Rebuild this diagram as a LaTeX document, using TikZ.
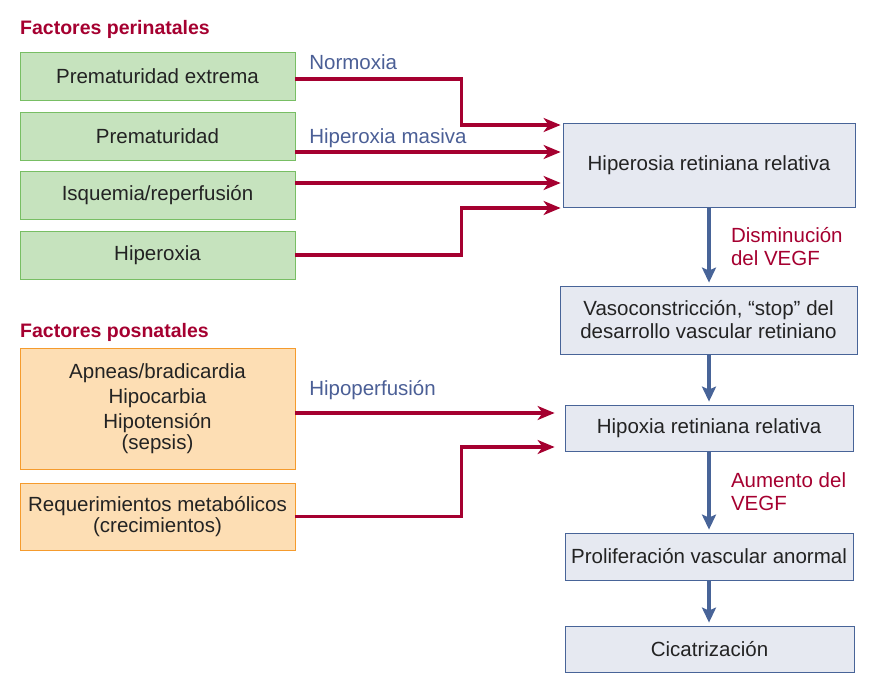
\documentclass[tikz,border=0pt]{standalone}
\usepackage{fontspec}
\setmainfont{Liberation Sans}
\usepackage{xcolor}
\usepackage{tikz}
\usetikzlibrary{shapes,arrows.meta,positioning,calc}

\definecolor{titlered}{RGB}{165,0,48}
\definecolor{labelblue}{RGB}{75,95,150}
\definecolor{flowblue}{RGB}{72,100,152}
\definecolor{boxgray}{RGB}{230,233,241}
\definecolor{perigreen}{RGB}{198,227,190}
\definecolor{perigreenline}{RGB}{120,190,100}
\definecolor{posorange}{RGB}{253,222,180}
\definecolor{posorangeline}{RGB}{245,155,45}
\definecolor{boxtext}{RGB}{35,35,35}

\tikzset{
	peribox/.style={draw=perigreenline, fill=perigreen, text=boxtext, line width=0.8pt, minimum width=275pt, minimum height=48pt, inner sep=0pt},
	posbox/.style={draw=posorangeline, fill=posorange, text=boxtext, line width=0.8pt, minimum width=275pt, align=center, inner sep=0pt},
	flowbox/.style={draw=flowblue, fill=boxgray, text=boxtext, line width=0.8pt, align=center, inner sep=0pt},
	redarrow/.style={draw=titlered, line width=3.8pt, -{Stealth[length=17pt,width=14pt,inset=5pt]}, shorten >=2pt},
	bluearrow/.style={draw=flowblue, line width=4pt, -{Stealth[length=15pt,width=14pt,inset=3pt]}, shorten >=3pt},
	grouptitle/.style={text=titlered, font=\bfseries\fontsize{19.5}{22}\selectfont, anchor=base west, inner sep=0pt},
	cause/.style={text=labelblue, anchor=base west, inner sep=0pt},
	effect/.style={text=titlered, align=left, anchor=west, inner sep=0pt},
}

\begin{document}
\begin{tikzpicture}[x=1pt, y=-1pt, font=\fontsize{20.5}{23}\selectfont]
	\useasboundingbox (0,0) rectangle (874,695);

	% factores perinatales
	\node[grouptitle] (perititle) at (20,35) {Factores perinatales};
	\node[peribox] (extrema) at (157.5,76) {Prematuridad extrema};
	\node[peribox] (prema) at (157.5,136) {Prematuridad};
	\node[peribox] (isquemia) at (157.5,195) {Isquemia/reperfusión};
	\node[peribox] (hiperoxia) at (157.5,255) {Hiperoxia};

	% factores posnatales
	\node[grouptitle] (postitle) at (20,337) {Factores posnatales};
	\node[posbox, minimum height=121pt] (apneas) at (157.5,408.5) {Apneas/bradicardia\\[2pt] Hipocarbia\\[2pt] Hipotensión\\[-2pt](sepsis)};
	\node[posbox, minimum height=67pt] (metab) at (157.5,516.5) {Requerimientos metabólicos\\[-2pt](crecimientos)};

	% cascada
	\node[flowbox, minimum width=292pt, minimum height=84pt] (hiperosia) at (709,165) {Hiperosia retiniana relativa};
	\node[flowbox, minimum width=297pt, minimum height=68pt] (vaso) at (708.5,320) {Vasoconstricción, “stop” del\\desarrollo vascular retiniano};
	\node[flowbox, minimum width=288pt, minimum height=46pt] (hipoxia) at (709,428) {Hipoxia retiniana relativa};
	\node[flowbox, minimum width=288pt, minimum height=47pt] (prolif) at (709,556.5) {Proliferación vascular anormal};
	\node[flowbox, minimum width=289pt, minimum height=46pt] (cicatriz) at (709.5,649) {Cicatrización};

	\draw[redarrow] ([yshift=-3pt]extrema.east) node[cause, xshift=12pt, yshift=9pt] {Normoxia} -- ++(166,0) |- ([yshift=40pt]hiperosia.west);
	\draw[redarrow] ([yshift=-16pt]prema.east) node[cause, xshift=12pt, yshift=9pt] {Hiperoxia masiva} -- ([yshift=13pt]hiperosia.west);
	\draw[redarrow] ([yshift=12pt]isquemia.east) -- ([yshift=-18pt]hiperosia.west);
	\draw[redarrow] (hiperoxia.east) -- ++(166,0) |- ([yshift=-43pt]hiperosia.west);
	\draw[redarrow, shorten >=10pt] ([yshift=-4.5pt]apneas.east) node[cause, xshift=12pt, yshift=18pt] {Hipoperfusión} -- ([yshift=15pt]hipoxia.west);
	\draw[redarrow, shorten >=10pt] (metab.east) -- ++(166,0) |- ([yshift=-19pt]hipoxia.west);

	\draw[bluearrow] (hiperosia.south) -- node[effect, xshift=20pt] {Disminución\\del VEGF} (hiperosia.south |- vaso.north);
	\draw[bluearrow] (hiperosia.south |- vaso.south) -- (hiperosia.south |- hipoxia.north);
	\draw[bluearrow] (hiperosia.south |- hipoxia.south) -- node[effect, xshift=20pt] {Aumento del\\VEGF} (hiperosia.south |- prolif.north);
	\draw[bluearrow] (hiperosia.south |- prolif.south) -- (hiperosia.south |- cicatriz.north);
\end{tikzpicture}
\end{document}
